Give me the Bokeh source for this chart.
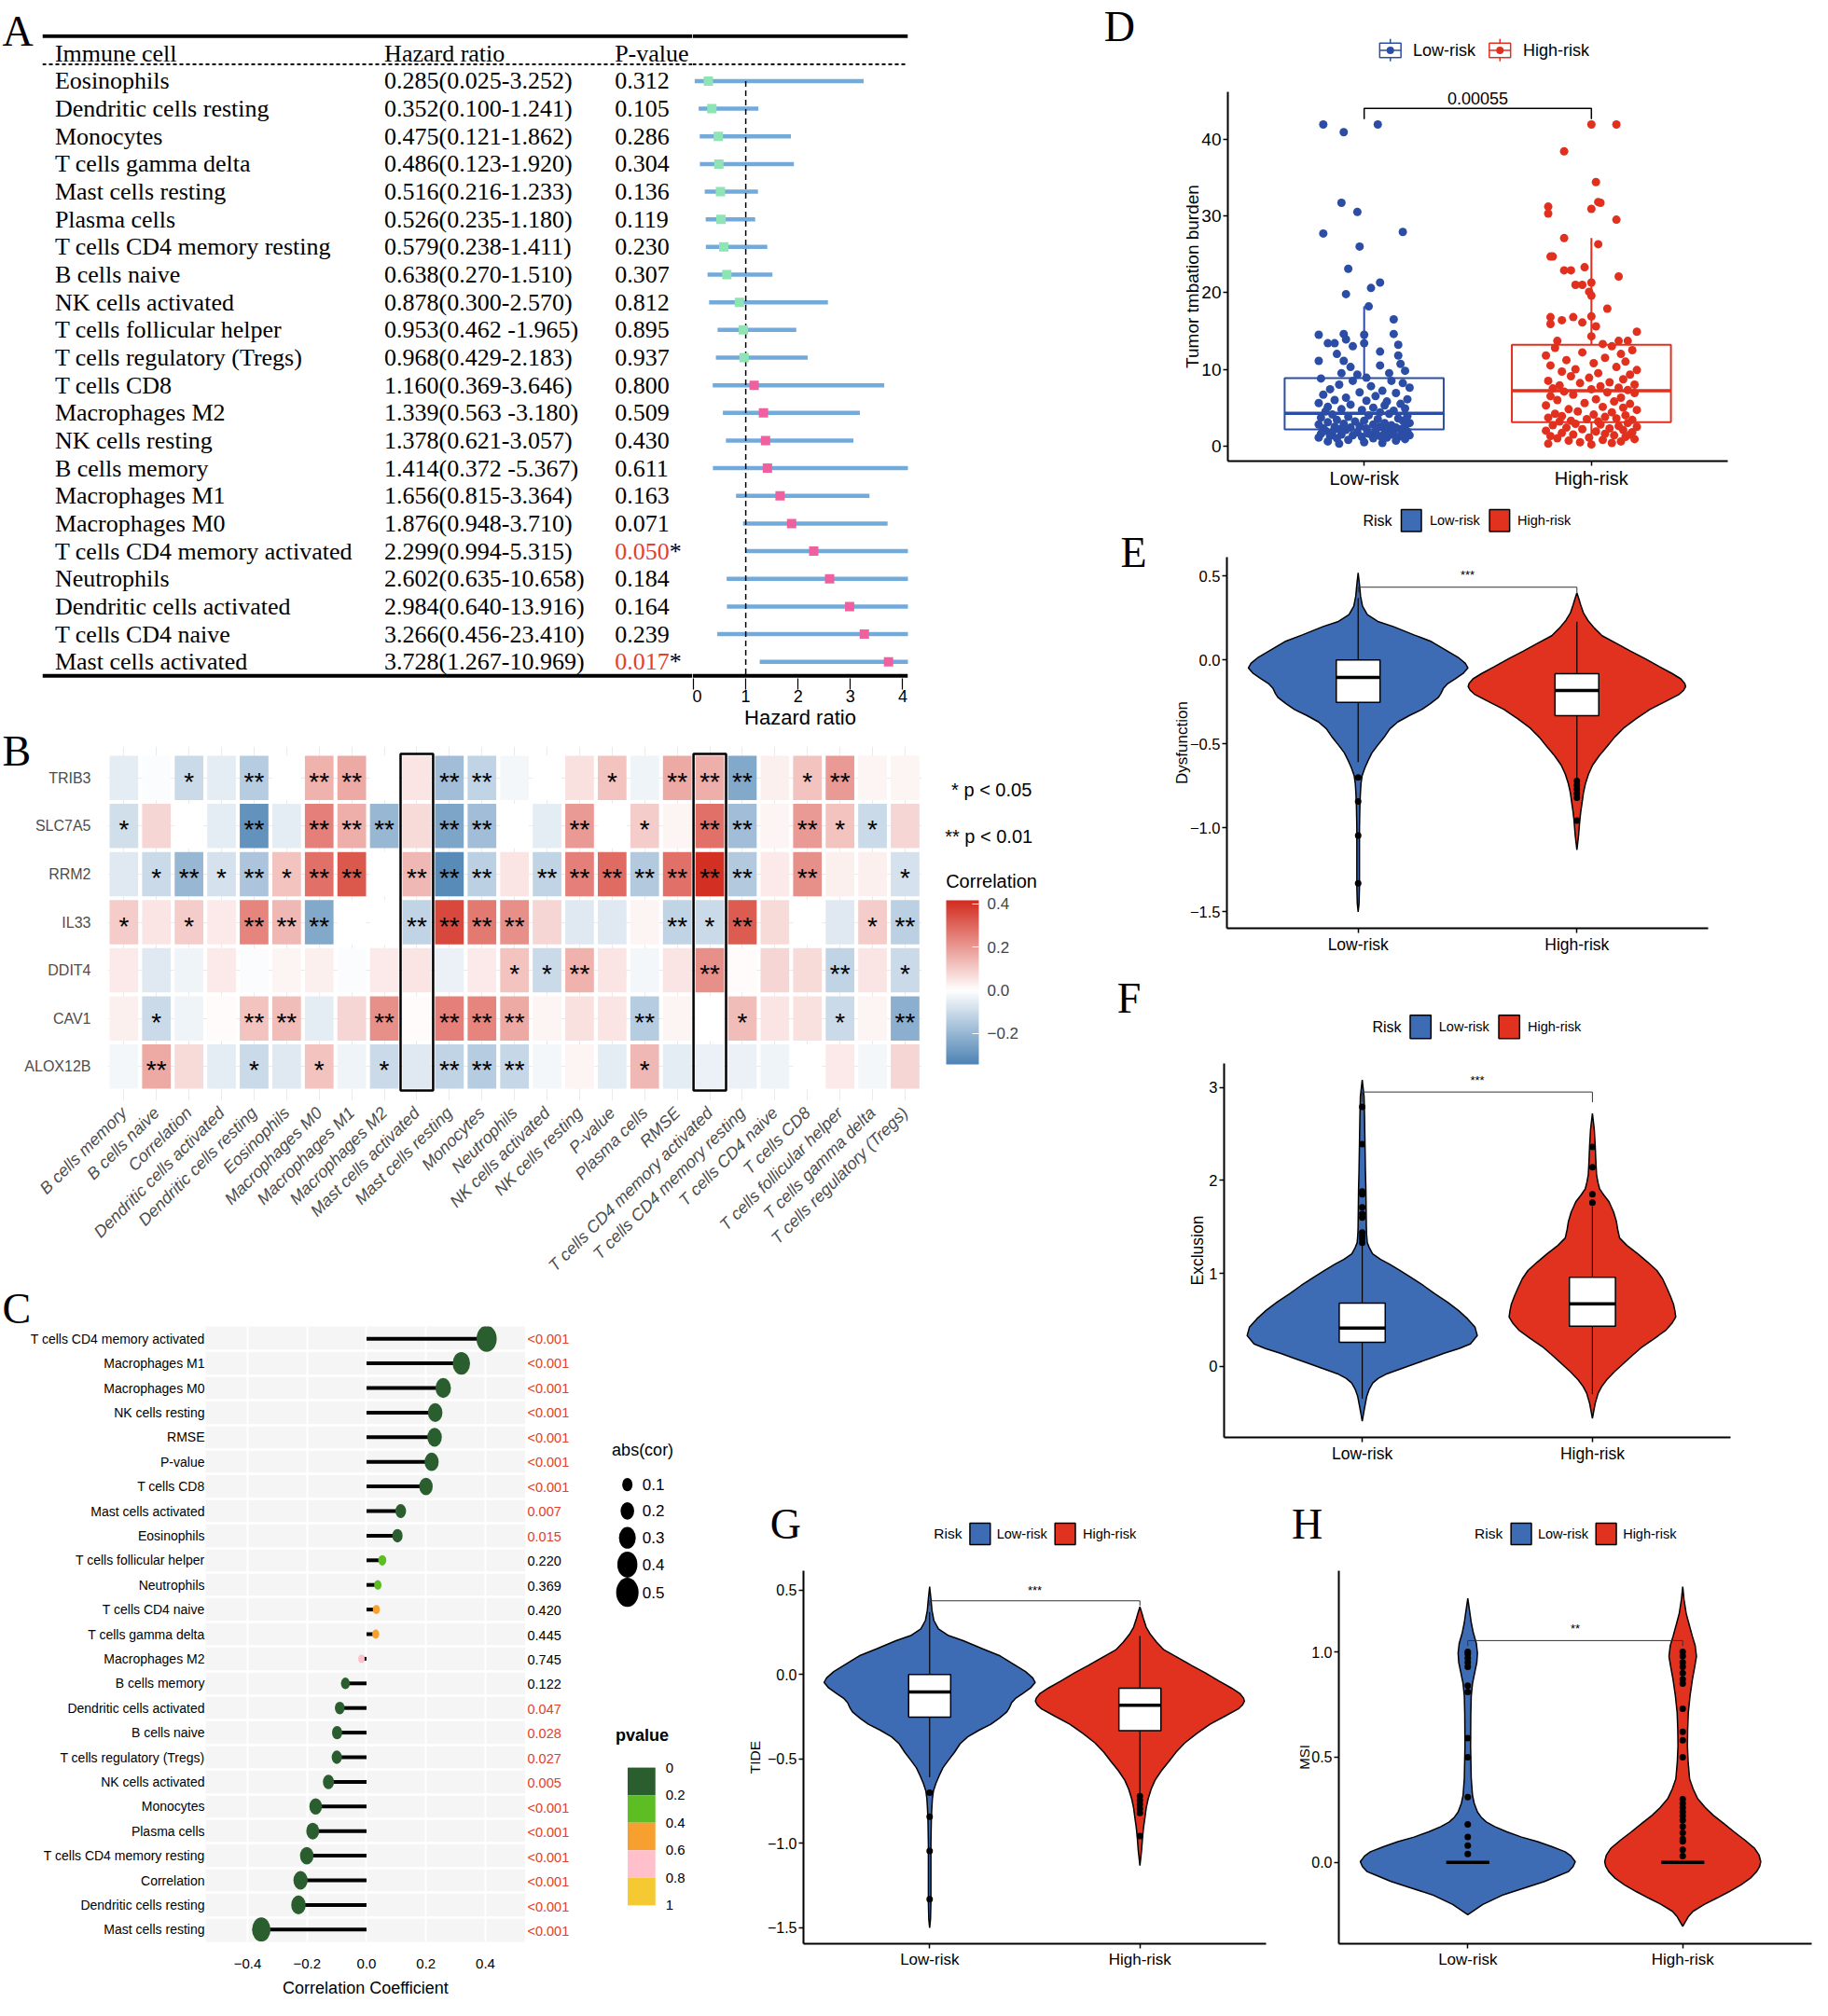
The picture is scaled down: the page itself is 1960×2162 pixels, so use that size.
import numpy as np
from bokeh.plotting import figure
from bokeh.models import (Range1d, FixedTicker, ColorBar, LinearColorMapper, GridBox, Span,
                          ColumnDataSource)
from bokeh.layouts import row
from bokeh.transform import transform
from bokeh.embed import file_html
from bokeh.resources import INLINE
from bokeh.core.properties import value

# ======================= DATA =======================
# ---- A: forest plot
cells_A = ["Eosinophils", "Dendritic cells resting", "Monocytes", "T cells gamma delta", "Mast cells resting",
           "Plasma cells", "T cells CD4 memory resting", "B cells naive", "NK cells activated",
           "T cells follicular helper", "T cells regulatory (Tregs)", "T cells CD8", "Macrophages M2",
           "NK cells resting", "B cells memory", "Macrophages M1", "Macrophages M0",
           "T cells CD4 memory activated", "Neutrophils", "Dendritic cells activated", "T cells CD4 naive",
           "Mast cells activated"]
hr_A = [0.285, 0.352, 0.475, 0.486, 0.516, 0.526, 0.579, 0.638, 0.878, 0.953, 0.968, 1.160, 1.339, 1.378,
        1.414, 1.656, 1.876, 2.299, 2.602, 2.984, 3.266, 3.728]
lo_A = [0.025, 0.100, 0.121, 0.123, 0.216, 0.235, 0.238, 0.270, 0.300, 0.462, 0.429, 0.369, 0.563, 0.621,
        0.372, 0.815, 0.948, 0.994, 0.635, 0.640, 0.456, 1.267]
hi_A = [3.252, 1.241, 1.862, 1.920, 1.233, 1.180, 1.411, 1.510, 2.570, 1.965, 2.183, 3.646, 3.180, 3.057,
        5.367, 3.364, 3.710, 5.315, 10.658, 13.916, 23.410, 10.969]
ci_txt_A = ["0.285(0.025-3.252)", "0.352(0.100-1.241)", "0.475(0.121-1.862)", "0.486(0.123-1.920)",
            "0.516(0.216-1.233)", "0.526(0.235-1.180)", "0.579(0.238-1.411)", "0.638(0.270-1.510)",
            "0.878(0.300-2.570)", "0.953(0.462 -1.965)", "0.968(0.429-2.183)", "1.160(0.369-3.646)",
            "1.339(0.563 -3.180)", "1.378(0.621-3.057)", "1.414(0.372 -5.367)", "1.656(0.815-3.364)",
            "1.876(0.948-3.710)", "2.299(0.994-5.315)", "2.602(0.635-10.658)", "2.984(0.640-13.916)",
            "3.266(0.456-23.410)", "3.728(1.267-10.969)"]
p_txt_A = ["0.312", "0.105", "0.286", "0.304", "0.136", "0.119", "0.230", "0.307", "0.812", "0.895", "0.937",
           "0.800", "0.509", "0.430", "0.611", "0.163", "0.071", "0.050", "0.184", "0.164", "0.239", "0.017"]
header_A = ["Immune cell", "Hazard ratio", "P-value"]
hr_ticks = [0, 1, 2, 3, 4]

# ---- B: heatmap
genes_B = ["TRIB3", "SLC7A5", "RRM2", "IL33", "DDIT4", "CAV1", "ALOX12B"]
cols_B = ["B cells memory", "B cells naive", "Correlation", "Dendritic cells activated", "Dendritic cells resting",
          "Eosinophils", "Macrophages M0", "Macrophages M1", "Macrophages M2", "Mast cells activated",
          "Mast cells resting", "Monocytes", "Neutrophils", "NK cells activated", "NK cells resting", "P-value",
          "Plasma cells", "RMSE", "T cells CD4 memory activated", "T cells CD4 memory resting",
          "T cells CD4 naive", "T cells CD8", "T cells follicular helper", "T cells gamma delta",
          "T cells regulatory (Tregs)"]
cor_TRIB3 = [-0.05, -0.01, -0.10, -0.05, -0.14, 0.00, 0.15, 0.17, 0.00, 0.05, -0.18, -0.12, -0.02, 0.00, 0.06,
             0.12, -0.03, 0.17, 0.16, -0.24, 0.03, 0.12, 0.20, 0.02, 0.02]
sig_TRIB3 = ["", "", "*", "", "**", "", "**", "**", "", "", "**", "**", "", "", "", "*", "", "**", "**", "**",
             "", "*", "**", "", ""]
cor_SLC7A5 = [-0.09, 0.08, 0.00, -0.05, -0.30, -0.05, 0.25, 0.16, -0.20, 0.07, -0.25, -0.18, 0.00, -0.05, 0.20,
              0.00, 0.10, 0.02, 0.28, -0.18, 0.02, 0.20, 0.12, -0.10, 0.08]
sig_SLC7A5 = ["*", "", "", "", "**", "", "**", "**", "**", "", "**", "**", "", "", "**", "", "*", "", "**", "**",
              "", "**", "*", "*", ""]
cor_RRM2 = [-0.06, -0.10, -0.20, -0.08, -0.16, 0.12, 0.28, 0.33, 0.00, 0.14, -0.32, -0.13, 0.05, -0.12, 0.25,
            0.29, -0.15, 0.28, 0.41, -0.15, 0.04, 0.22, 0.03, 0.03, -0.08]
sig_RRM2 = ["", "*", "**", "*", "**", "*", "**", "**", "", "**", "**", "**", "", "**", "**", "**", "**", "**",
            "**", "**", "", "**", "", "", "*"]
cor_IL33 = [0.10, 0.05, 0.10, 0.04, 0.24, 0.14, -0.24, 0.00, 0.00, -0.12, 0.36, 0.26, 0.22, 0.08, -0.06, -0.06,
            0.02, -0.12, -0.10, 0.32, 0.07, 0.00, -0.06, 0.10, -0.13]
sig_IL33 = ["*", "", "*", "", "**", "**", "**", "", "", "**", "**", "**", "**", "", "", "", "", "**", "*", "**",
            "", "", "", "*", "**"]
cor_DDIT4 = [0.04, -0.06, -0.03, 0.04, -0.01, 0.02, 0.03, -0.01, 0.04, 0.05, -0.04, 0.04, 0.12, -0.10, 0.15,
             0.05, -0.02, 0.05, 0.22, 0.01, 0.08, 0.07, -0.12, 0.05, -0.10]
sig_DDIT4 = ["", "", "", "", "", "", "", "", "", "", "", "", "*", "*", "**", "", "", "", "**", "", "", "", "**",
             "", "*"]
cor_CAV1 = [0.03, -0.10, -0.03, 0.01, 0.12, 0.13, -0.05, 0.08, 0.22, 0.01, 0.25, 0.24, 0.17, 0.02, 0.06, 0.05,
            -0.14, 0.02, 0.00, 0.13, 0.05, 0.06, -0.10, 0.02, -0.22]
sig_CAV1 = ["", "*", "", "", "**", "**", "", "", "**", "", "**", "**", "**", "", "", "", "**", "", "", "*", "",
            "", "*", "", "**"]
cor_ALOX12B = [-0.02, 0.17, 0.07, -0.05, -0.10, -0.06, 0.12, -0.03, -0.10, -0.06, -0.12, -0.14, -0.11, -0.02,
               0.02, -0.05, 0.14, -0.05, -0.04, -0.04, -0.03, 0.00, 0.04, -0.02, 0.08]
sig_ALOX12B = ["", "**", "", "", "*", "", "*", "", "*", "", "**", "**", "**", "", "", "", "*", "", "", "", "", "",
               "", "", ""]
heat_cor = [cor_TRIB3, cor_SLC7A5, cor_RRM2, cor_IL33, cor_DDIT4, cor_CAV1, cor_ALOX12B]
heat_sig = [sig_TRIB3, sig_SLC7A5, sig_RRM2, sig_IL33, sig_DDIT4, sig_CAV1, sig_ALOX12B]
highlight_B = ["Mast cells activated", "T cells CD4 memory activated"]
cbar_low, cbar_high = -0.343, 0.417
cbar_ticks = [-0.2, 0.0, 0.2, 0.4]

# ---- C: lollipop
cells_C = ["T cells CD4 memory activated", "Macrophages M1", "Macrophages M0", "NK cells resting", "RMSE",
           "P-value", "T cells CD8", "Mast cells activated", "Eosinophils", "T cells follicular helper",
           "Neutrophils", "T cells CD4 naive", "T cells gamma delta", "Macrophages M2", "B cells memory",
           "Dendritic cells activated", "B cells naive", "T cells regulatory (Tregs)", "NK cells activated",
           "Monocytes", "Plasma cells", "T cells CD4 memory resting", "Correlation", "Dendritic cells resting",
           "Mast cells resting"]
cor_C = [0.404, 0.319, 0.258, 0.231, 0.229, 0.219, 0.200, 0.115, 0.104, 0.053, 0.038, 0.033, 0.031, -0.017,
         -0.071, -0.090, -0.099, -0.100, -0.128, -0.171, -0.181, -0.201, -0.222, -0.229, -0.354]
pval_C = [0.0005, 0.0005, 0.0005, 0.0005, 0.0005, 0.0005, 0.0005, 0.007, 0.015, 0.220, 0.369, 0.420, 0.445,
          0.745, 0.122, 0.047, 0.028, 0.027, 0.005, 0.0005, 0.0005, 0.0005, 0.0005, 0.0005, 0.0005]
ptxt_C = ["<0.001", "<0.001", "<0.001", "<0.001", "<0.001", "<0.001", "<0.001", "0.007", "0.015", "0.220",
          "0.369", "0.420", "0.445", "0.745", "0.122", "0.047", "0.028", "0.027", "0.005", "<0.001", "<0.001",
          "<0.001", "<0.001", "<0.001", "<0.001"]
size_breaks_C = [0.0, 0.1, 0.2, 0.3, 0.4, 0.5]
size_px_C = [6, 11, 14.5, 18, 21.5, 24]
pv_breaks_C = [0, 0.2, 0.4, 0.6, 0.8, 1]
pv_colors_C = ["#2B5E2F", "#5DBE24", "#F7A02F", "#FFC0CB", "#F5C932"]
c_xticks = [-0.4, -0.2, 0.0, 0.2, 0.4]

# ---- D: TMB boxplot + jitter
tmb_low = [41.9, 40.9, 41.9, 31.7, 30.5, 27.7, 27.9, 26.0, 23.1, 21.3, 19.8, 20.6, 18.2,
           16.5, 14.5, 14.6, 14.6, 14.5, 13.4, 13.4, 13.9, 13.0, 13.2, 13.4, 11.1, 12.0, 12.3, 11.8, 11.1, 10.3,
           10.5, 10.7, 9.8, 9.5, 9.3, 8.9, 9.5,
           8.8, 8.5, 8.5, 8.2, 8.0, 7.8, 7.6, 7.4, 7.2, 7.0, 6.9, 6.7, 6.5, 6.3, 6.1, 6.0, 5.9, 5.8, 5.6, 5.5, 5.4,
           5.3, 5.1, 5.0, 4.9, 4.8, 4.7, 4.6, 4.5, 4.4,
           4.2, 4.1, 4.0, 3.9, 3.8, 3.7, 3.6, 3.5, 3.4, 3.3, 3.3, 3.2, 3.1, 3.0, 3.0, 2.9, 2.8, 2.8, 2.7, 2.6, 2.6,
           2.5, 2.5, 2.4, 2.4, 2.3, 2.3, 2.2, 2.2, 2.2,
           2.1, 2.0, 2.0, 1.9, 1.9, 1.8, 1.8, 1.7, 1.7, 1.6, 1.6, 1.5, 1.5, 1.4, 1.4, 1.3, 1.3, 1.2, 1.2, 1.1, 1.1,
           1.0, 1.0, 0.9, 0.8, 0.7, 0.6, 0.5, 0.4, 0.3]
jit_low = [-0.18, -0.09, 0.06, -0.10, -0.03, -0.18, 0.17, -0.02, -0.07, 0.07, -0.08, 0.03, 0.02,
           0.13, -0.20, -0.09, 0.13, 0.00, -0.16, -0.13, -0.08, -0.05, 0.15, 0.00, -0.20, -0.12, 0.07, 0.15, -0.09,
           -0.06, 0.07, 0.16, 0.18, -0.10, -0.03, 0.01, 0.11,
           -0.19, 0.12, -0.05, 0.17, -0.11, 0.03, 0.20, -0.15, 0.08, -0.02, 0.14, -0.18, 0.05, -0.08, 0.19, -0.13,
           0.01, 0.10, -0.20, 0.16, -0.06, 0.09, -0.16, 0.04, 0.18, -0.10, -0.01, 0.13, -0.17, 0.07,
           0.11, -0.14, 0.02, 0.19, -0.07, -0.19, 0.15, 0.06, -0.12, 0.00, 0.17, -0.04, -0.16, 0.09, 0.20, -0.09,
           0.04, -0.20, 0.12, -0.02, 0.18, -0.13, 0.07, -0.06, 0.14, -0.18, 0.01, 0.10, -0.11, 0.16,
           -0.08, 0.13, -0.17, 0.05, 0.19, -0.03, -0.14, 0.09, 0.17, -0.19, 0.02, 0.12, -0.10, 0.20, -0.05, 0.07,
           -0.15, 0.15, -0.01, -0.20, 0.10, 0.04, -0.12, 0.18, -0.07, 0.14, -0.16, 0.00, 0.08, -0.11]
tmb_high = [41.9, 41.9, 38.4, 34.4, 31.8, 31.7, 31.2, 30.9, 30.3, 29.5, 27.1, 26.3, 24.7, 24.7, 22.9, 22.9, 23.3,
            22.1, 21.0, 21.0, 21.3, 20.1, 19.6, 17.9, 16.8, 16.4, 16.8, 16.9, 15.9, 16.1, 15.6, 14.9, 14.3, 13.7,
            13.3, 13.7, 13.7,
            13.0, 12.8, 12.5, 12.2, 12.0, 11.8, 11.5, 11.2, 11.0, 10.8, 10.5, 10.3, 10.0, 9.9, 9.7, 9.5, 9.3, 9.1,
            8.9, 8.7, 8.5, 8.3, 8.2, 8.0, 7.9, 7.8, 7.6, 7.5, 7.4, 7.3,
            7.1, 7.0, 6.9, 6.7, 6.5, 6.3, 6.1, 6.0, 5.8, 5.6, 5.5, 5.3, 5.1, 5.0, 4.8, 4.7, 4.5, 4.4, 4.2, 4.1, 4.0,
            3.9, 3.8, 3.7, 3.6, 3.5, 3.4, 3.3, 3.2, 3.2,
            3.0, 2.9, 2.8, 2.7, 2.6, 2.5, 2.4, 2.3, 2.2, 2.1, 2.0, 1.9, 1.8, 1.7, 1.6, 1.5, 1.4, 1.3, 1.2, 1.1, 1.0,
            0.9, 0.8, 0.7, 0.6, 0.5, 0.4, 0.3, 0.2, 1.5]
jit_high = [0.00, 0.11, -0.12, 0.02, 0.03, 0.04, -0.19, 0.00, -0.19, 0.11, -0.12, 0.03, -0.18, -0.17, -0.12,
            -0.09, -0.03, 0.12, -0.07, -0.04, 0.00, -0.01, 0.00, 0.07, -0.18, -0.13, -0.08, 0.00, -0.18, -0.04,
            0.02, 0.20, 0.00, -0.15, 0.05, 0.12, 0.16,
            0.09, -0.16, 0.18, -0.04, 0.13, -0.20, 0.06, -0.11, 0.15, 0.01, -0.18, 0.11, -0.07, 0.20, -0.13, 0.03,
            0.17, -0.09, -0.01, 0.14, -0.19, 0.08, -0.05, 0.19, -0.14, 0.04, 0.12, -0.17, 0.00, 0.16,
            -0.12, 0.07, 0.19, -0.08, -0.18, 0.13, 0.02, -0.15, 0.10, -0.03, 0.17, -0.20, 0.05, 0.14, -0.10, 0.20,
            -0.06, 0.09, -0.16, 0.01, 0.15, -0.13, 0.06, -0.19, 0.11, -0.02, 0.18, -0.09, 0.03, -0.14,
            0.16, -0.07, 0.04, -0.17, 0.12, 0.20, -0.11, 0.08, -0.04, 0.14, -0.20, 0.02, 0.18, -0.13, 0.06, -0.08,
            0.10, -0.18, 0.15, -0.01, -0.15, 0.19, 0.05, -0.10, 0.13, -0.05, 0.09, -0.19, 0.00, 0.17]
box_tmb_low = [2.17, 4.25, 8.84, 0.2, 18.2]     # q1, median, q3, whisker low, whisker high
box_tmb_high = [3.1, 7.2, 13.2, 0.2, 27.1]
tmb_ticks = [0, 10, 20, 30, 40]
tmb_p = "0.00055"
groups = ["Low-risk", "High-risk"]

# ---- E: Dysfunction violins (y level, half-width)
dys_low_y = [0.52, 0.45, 0.38, 0.32, 0.27, 0.23, 0.20, 0.15, 0.11, 0.06, 0.017, -0.02, -0.047, -0.08, -0.112,
             -0.14, -0.167, -0.20, -0.222, -0.26, -0.295, -0.33, -0.369, -0.41, -0.461, -0.51, -0.553, -0.60,
             -0.645, -0.69, -0.737, -0.80, -0.865, -1.0, -1.2, -1.35, -1.45, -1.50]
dys_low_w = [0.0, 0.006, 0.011, 0.02, 0.042, 0.09, 0.16, 0.255, 0.335, 0.40, 0.456, 0.49, 0.502, 0.48, 0.443,
             0.41, 0.39, 0.378, 0.367, 0.33, 0.291, 0.235, 0.181, 0.145, 0.118, 0.088, 0.063, 0.045, 0.03, 0.018,
             0.013, 0.01, 0.008, 0.006, 0.006, 0.006, 0.004, 0.0]
dys_high_y = [0.40, 0.36, 0.33, 0.28, 0.237, 0.19, 0.145, 0.10, 0.053, 0.01, -0.039, -0.08, -0.112, -0.14,
              -0.158, -0.18, -0.204, -0.25, -0.295, -0.35, -0.406, -0.46, -0.516, -0.57, -0.626, -0.68, -0.737,
              -0.79, -0.847, -0.90, -0.957, -1.04, -1.131]
dys_high_w = [0.0, 0.01, 0.017, 0.03, 0.05, 0.08, 0.115, 0.18, 0.246, 0.31, 0.377, 0.435, 0.475, 0.493, 0.497,
              0.488, 0.468, 0.40, 0.333, 0.27, 0.213, 0.172, 0.137, 0.102, 0.072, 0.053, 0.039, 0.03, 0.024,
              0.018, 0.013, 0.008, 0.0]
dys_box_low = [-0.252, -0.103, 0.0, -0.608, 0.37]
dys_box_high = [-0.332, -0.182, -0.081, -0.718, 0.228]
dys_out_low = [-0.70, -0.842, -1.045, -1.33]
dys_out_high = [-0.72, -0.745, -0.77, -0.795, -0.82, -0.957]

# ---- F: Exclusion
exc_low_y = [3.08, 2.9, 2.7, 2.4, 2.1, 1.9, 1.7, 1.5, 1.42, 1.33, 1.28, 1.21, 1.15, 1.10, 1.03, 0.96, 0.87,
             0.78, 0.69, 0.60, 0.51, 0.42, 0.33, 0.24, 0.19, 0.14, 0.085, 0.03, -0.025, -0.08, -0.13, -0.18,
             -0.25, -0.32, -0.45, -0.59]
exc_low_w = [0.0, 0.008, 0.01, 0.012, 0.014, 0.016, 0.017, 0.018, 0.019, 0.022, 0.03, 0.045, 0.08, 0.118, 0.165,
             0.21, 0.265, 0.315, 0.37, 0.418, 0.458, 0.49, 0.50, 0.47, 0.42, 0.356, 0.295, 0.232, 0.17, 0.108,
             0.07, 0.046, 0.03, 0.02, 0.01, 0.0]
exc_high_y = [2.72, 2.55, 2.38, 2.2, 2.06, 1.98, 1.91, 1.84, 1.77, 1.66, 1.56, 1.47, 1.38, 1.30, 1.21, 1.12,
              1.03, 0.94, 0.85, 0.76, 0.67, 0.60, 0.53, 0.46, 0.39, 0.30, 0.21, 0.12, 0.03, -0.06, -0.145, -0.22,
              -0.29, -0.4, -0.56]
exc_high_w = [0.0, 0.008, 0.012, 0.015, 0.018, 0.024, 0.031, 0.05, 0.072, 0.092, 0.104, 0.11, 0.118, 0.15,
              0.197, 0.24, 0.28, 0.305, 0.322, 0.338, 0.352, 0.358, 0.362, 0.345, 0.32, 0.27, 0.217, 0.175,
              0.135, 0.095, 0.062, 0.04, 0.025, 0.012, 0.0]
exc_box_low = [0.257, 0.41, 0.68, -0.35, 1.31]
exc_box_high = [0.432, 0.673, 0.958, -0.3, 1.72]
exc_out_low = [2.79, 2.39, 1.88, 1.85, 1.71, 1.64, 1.60, 1.44, 1.40, 1.37, 1.33]
exc_out_high = [2.36, 2.14, 1.85, 1.76]

# ---- G: TIDE (same shape as the Dysfunction panel in the picture)
tide_low_y, tide_low_w = dys_low_y, dys_low_w
tide_high_y, tide_high_w = dys_high_y, dys_high_w
tide_box_low, tide_box_high = dys_box_low, dys_box_high
tide_out_low, tide_out_high = dys_out_low, dys_out_high

# ---- H: MSI
msi_low_y = [-0.249, -0.2, -0.154, -0.12, -0.091, -0.06, -0.044, -0.02, 0.003, 0.03, 0.05, 0.075, 0.098, 0.12,
             0.145, 0.17, 0.192, 0.215, 0.239, 0.28, 0.318, 0.4, 0.554, 0.7, 0.79, 0.85, 0.90, 0.95, 0.995, 1.04,
             1.09, 1.14, 1.184, 1.255]
msi_low_w = [0.0, 0.07, 0.166, 0.27, 0.357, 0.43, 0.469, 0.49, 0.5, 0.48, 0.453, 0.39, 0.325, 0.25, 0.182, 0.125,
             0.086, 0.062, 0.045, 0.03, 0.022, 0.016, 0.013, 0.014, 0.016, 0.022, 0.032, 0.042, 0.045, 0.04,
             0.026, 0.016, 0.01, 0.0]
msi_high_y = [-0.304, -0.26, -0.233, -0.2, -0.17, -0.14, -0.107, -0.075, -0.044, -0.02, 0.003, 0.035, 0.066,
              0.105, 0.145, 0.185, 0.223, 0.26, 0.302, 0.35, 0.397, 0.48, 0.554, 0.63, 0.712, 0.79, 0.869, 0.93,
              0.979, 1.03, 1.074, 1.13, 1.184, 1.25, 1.31]
msi_high_w = [0.0, 0.025, 0.048, 0.1, 0.159, 0.215, 0.271, 0.315, 0.344, 0.358, 0.363, 0.355, 0.335, 0.29,
              0.239, 0.19, 0.143, 0.105, 0.07, 0.048, 0.032, 0.025, 0.022, 0.023, 0.026, 0.034, 0.045, 0.056,
              0.064, 0.058, 0.045, 0.03, 0.016, 0.006, 0.0]
msi_box_low = [0.0, 0.0, 0.0, 0.0, 0.0]
msi_box_high = [0.0, 0.0, 0.0, 0.0, 0.0]
msi_out_low = [1.0, 0.99, 0.97, 0.95, 0.93, 0.84, 0.81, 0.59, 0.50, 0.31, 0.18, 0.12, 0.08, 0.04]
msi_out_high = [1.0, 0.98, 0.95, 0.93, 0.90, 0.87, 0.85, 0.73, 0.62, 0.58, 0.50, 0.30, 0.28, 0.26, 0.24, 0.22,
                0.20, 0.17, 0.14, 0.11, 0.10, 0.06, 0.03]

# ======================= STYLE / LAYOUT =======================
S = 1944 / 1960
SANS, SERIF = "Liberation Sans", "Liberation Serif"
MINUS = "\u2212"
BLUE_PT, RED_PT = "#2B4DA5", "#E2301F"
BLUE_V, RED_V = "#3E6CB4", "#E0321F"
RED_TXT = "#E2412B"
ELL_ASPECT = 1.3


def sc(v):
    return int(round(v * S))


def no_align(p):
    try:
        p.frame_align = False
    except AttributeError:
        pass


def make_fig(cell, frame, **kw):
    x0, y0, x1, y1 = cell
    fx0, fy0, fx1, fy1 = frame
    p = figure(width=sc(x1) - sc(x0), height=sc(y1) - sc(y0), output_backend="svg", toolbar_location=None,
               min_border_left=sc(fx0) - sc(x0), min_border_right=sc(x1) - sc(fx1),
               min_border_top=sc(fy0) - sc(y0), min_border_bottom=sc(y1) - sc(fy1), **kw)
    p.outline_line_color = None
    p.xgrid.visible = False
    p.ygrid.visible = False
    no_align(p)
    return p


def txt(p, x, y, t, size, color="black", align="left", baseline="middle", font=SANS, style="normal", **kw):
    p.text(x=x, y=y, text=t, text_font=value(font), text_font_size=size, text_color=color,
           text_align=align, text_baseline=baseline, text_font_style=style, **kw)


def fmt(v, nd=1):
    s = f"{abs(v):.{nd}f}"
    return (MINUS + s) if v < 0 else s


def style_axis(ax, size, color="black"):
    ax.major_label_text_font = SANS
    ax.major_label_text_font_size = size
    ax.major_label_text_color = color
    ax.minor_tick_line_color = None
    ax.axis_label_text_font = SANS
    ax.axis_label_text_font_style = "normal"
    ax.axis_label_text_color = "black"


# grid boundaries (reference pixel coordinates)
COLB = [0, 800, 1150, 1380, 1960]
ROWB = [0, 540, 790, 1040, 1395, 1600, 2162]

# ---------------- Panel A ----------------
ROW0, ROWSP = 86.9, 29.9
yA = Range1d(21.6, -1.7)
fa_top, fa_bot = ROW0 - 1.7 * ROWSP, ROW0 + 21.6 * ROWSP
COLX = [59, 415, 664]
STAR_X = 723
TFS = "26px"
SPLIT = 748
tA = make_fig((0, 0, SPLIT, 790), (45.5, fa_top, SPLIT, fa_bot), x_range=Range1d(45.5, SPLIT), y_range=yA,
              x_axis_location=None, y_axis_location=None)
rowsA = list(range(len(cells_A)))
nA = len(rowsA)
sigA = [float(v) <= 0.05 for v in p_txt_A]
txt(tA, COLX, [-1] * 3, header_A, TFS, font=SERIF)
txt(tA, [COLX[0]] * nA, rowsA, cells_A, TFS, font=SERIF)
txt(tA, [COLX[1]] * nA, rowsA, ci_txt_A, TFS, font=SERIF)
txt(tA, [COLX[2]] * nA, rowsA, p_txt_A, TFS, font=SERIF, color=[RED_TXT if s else "black" for s in sigA])
star_rows = [i for i in rowsA if sigA[i]]
txt(tA, [STAR_X] * len(star_rows), star_rows, ["*"] * len(star_rows), TFS, font=SERIF)

HR0_PX, HR_UNIT = 749, 56.6
fA = make_fig((SPLIT, 0, 1150, 790), (SPLIT, fa_top, 981, fa_bot),
              x_range=Range1d((SPLIT - HR0_PX) / HR_UNIT, (981 - HR0_PX) / HR_UNIT), y_range=yA,
              y_axis_location=None)
fA.segment(x0=lo_A, y0=rowsA, x1=hi_A, y1=rowsA, line_width=4.5, line_color="#72AADB")
fA.segment(x0=[1], x1=[1], y0=[0], y1=[21.5], line_color="black", line_width=1.5, line_dash="6 4")
fA.scatter(x=hr_A, y=rowsA, marker="square", size=10, line_color=None,
           fill_color=["#8EE4B4" if h < 1 else "#F0609E" for h in hr_A])
for p in (tA, fA):
    p.add_layout(Span(location=-1.62, dimension="width", line_color="black", line_width=4))
    p.add_layout(Span(location=21.51, dimension="width", line_color="black", line_width=4))
    p.add_layout(Span(location=-0.6, dimension="width", line_color="black", line_width=2, line_dash="4 3"))
ax = fA.xaxis[0]
style_axis(ax, "18px")
ax.ticker = FixedTicker(ticks=hr_ticks)
ax.axis_line_color = None
ax.major_tick_in = 0
ax.major_tick_out = 12
ax.major_tick_line_width = 1.2
ax.major_label_standoff = 0
ax.axis_label = "Hazard ratio"
ax.axis_label_text_font_size = "22px"
ax.axis_label_standoff = 1
panelA = row(tA, fA)

# ---------------- Panel B ----------------
def grad2(v):
    hi_c, lo_c = (210, 43, 30), (38, 104, 163)
    t = v / max(abs(cbar_low), abs(cbar_high))
    c = hi_c if t >= 0 else lo_c
    t = min(abs(t), 1.0)
    r, g, b = [int(round(255 + (ci - 255) * t)) for ci in c]
    return "#%02x%02x%02x" % (r, g, b)


pal = [grad2(cbar_low + (k + 0.5) * (cbar_high - cbar_low) / 256) for k in range(256)]
mapper = LinearColorMapper(palette=pal, low=cbar_low, high=cbar_high)

C0_PX, C_UNIT = 133.5, 35.2
R0_PX, R_UNIT = 841, 52
hB = make_fig((0, ROWB[2], 1150, ROWB[4]), (116, 807, 996.5, 1190),
              x_range=Range1d((116 - C0_PX) / C_UNIT, (996.5 - C0_PX) / C_UNIT),
              y_range=Range1d((1190 - R0_PX) / R_UNIT, (807 - R0_PX) / R_UNIT))
hx, hy, hv, hs = [], [], [], []
for gi in range(len(genes_B)):
    for ci in range(len(cols_B)):
        hx.append(ci); hy.append(gi); hv.append(heat_cor[gi][ci]); hs.append(heat_sig[gi][ci])
srcB = ColumnDataSource(dict(x=hx, y=hy, v=hv, s=hs))
hB.xgrid.visible = True
hB.ygrid.visible = True
hB.xgrid.ticker = FixedTicker(ticks=list(range(len(cols_B))))
hB.ygrid.ticker = FixedTicker(ticks=list(range(len(genes_B))))
hB.grid.grid_line_color = "#EBEBEB"
hB.rect(x="x", y="y", width=0.88, height=0.92, source=srcB, fill_color=transform("v", mapper), line_color=None)
hB.text(x="x", y="y", text="s", source=srcB, text_font=value(SANS), text_font_size="28px", text_align="center",
        text_baseline="middle", y_offset=4, text_color="black")
hl_idx = [cols_B.index(c) for c in highlight_B]
hB.rect(x=hl_idx, y=[(len(genes_B) - 1) / 2] * len(hl_idx), width=1, height=len(genes_B), fill_color=None,
        line_color="black", line_width=2.5)
ax = hB.xaxis[0]
style_axis(ax, "18px", "#4D4D4D")
ax.ticker = FixedTicker(ticks=list(range(len(cols_B))))
ax.major_label_overrides = {i: c for i, c in enumerate(cols_B)}
ax.major_label_orientation = np.pi / 4
ax.major_label_text_font_style = "italic"
ax.axis_line_color = None
ax.major_tick_line_color = None
ax.major_label_standoff = 4
ax = hB.yaxis[0]
style_axis(ax, "16px", "#4D4D4D")
ax.ticker = FixedTicker(ticks=list(range(len(genes_B))))
ax.major_label_overrides = {i: g for i, g in enumerate(genes_B)}
ax.axis_line_color = None
ax.major_tick_line_color = None
ax.major_label_standoff = 12

# ---------------- Panel C ----------------
CR0, CRSP = 1447, 26.7
c_top, c_bot = CR0 - 0.5 * CRSP, CR0 + 24.5 * CRSP
yC = Range1d(len(cells_C) - 0.5, -0.5)
CX0, CXU = 396, 321.5
cM = make_fig((0, ROWB[4], 568, 2162), (222, c_top, 568, c_bot),
              x_range=Range1d((222 - CX0) / CXU, (568 - CX0) / CXU), y_range=yC)
cM.background_fill_color = "#F5F5F5"
cM.xgrid.visible = True
cM.ygrid.visible = True
cM.xgrid.ticker = FixedTicker(ticks=c_xticks)
cM.ygrid.ticker = FixedTicker(ticks=[k + 0.5 for k in range(len(cells_C) - 1)])
cM.xgrid.grid_line_color = "white"
cM.xgrid.grid_line_width = 2
cM.ygrid.grid_line_color = "white"
cM.ygrid.grid_line_width = 2.5
rowsC = list(range(len(cells_C)))
cM.segment(x0=[0] * len(rowsC), y0=rowsC, x1=cor_C, y1=rowsC, line_color="black", line_width=4)
wC = [float(np.interp(abs(c), size_breaks_C, size_px_C)) for c in cor_C]
colC = [pv_colors_C[min(int(p / 0.2), 4)] for p in pval_C]
cM.ellipse(x=cor_C, y=rowsC, width=wC, height=[w * ELL_ASPECT for w in wC], width_units="screen",
           height_units="screen", fill_color=colC, line_color=None)
ax = cM.yaxis[0]
style_axis(ax, "14px")
ax.ticker = FixedTicker(ticks=rowsC)
ax.major_label_overrides = {i: c for i, c in enumerate(cells_C)}
ax.axis_line_color = None
ax.major_tick_line_color = None
ax.major_tick_out = 0
ax.major_label_standoff = 1
ax = cM.xaxis[0]
style_axis(ax, "15px")
ax.ticker = FixedTicker(ticks=c_xticks)
ax.major_label_overrides = {t: fmt(t) for t in c_xticks}
ax.axis_line_color = None
ax.major_tick_line_color = None
ax.major_label_standoff = 12
ax.axis_label = "Correlation Coefficient"
ax.axis_label_text_font_size = "18px"
ax.axis_label_standoff = 8

cR = make_fig((568, ROWB[4], 800, 2162), (568, c_top, 800, c_bot), x_range=Range1d(568, 800), y_range=yC,
              x_axis_location=None, y_axis_location=None)
txt(cR, [570] * len(rowsC), rowsC, ptxt_C, "14.5px", color=[RED_TXT if p < 0.05 else "black" for p in pval_C])
panelC = row(cM, cR)

# ---------------- Panel D ----------------
DY0, DYU = 481.7, 8.3
pD = make_fig((1150, 0, 1960, 540), (1327, 98.6, 1867, 498), x_range=Range1d(0.4, 2.6),
              y_range=Range1d((DY0 - 498) / DYU, (DY0 - 98.6) / DYU))
for k, (vals, jit, box, col) in enumerate([(tmb_low, jit_low, box_tmb_low, BLUE_PT),
                                            (tmb_high, jit_high, box_tmb_high, RED_PT)]):
    c = k + 1
    q1, med, q3, wlo, whi = box
    pD.segment(x0=[c, c], y0=[q3, q1], x1=[c, c], y1=[whi, wlo], line_color=col, line_width=2)
    pD.quad(left=[c - 0.35], right=[c + 0.35], bottom=[q1], top=[q3], fill_color=None, line_color=col,
            line_width=2)
    pD.segment(x0=[c - 0.35], x1=[c + 0.35], y0=[med], y1=[med], line_color=col, line_width=3.5)
    n = min(len(vals), len(jit))
    pD.scatter(x=[c + j for j in jit[:n]], y=vals[:n], size=9, fill_color=col, line_color=None)
pD.line(x=[1, 1, 2, 2], y=[42.6, 44.0, 44.0, 42.6], line_color="black", line_width=1.5)
txt(pD, [1.5], [44.5], [tmb_p], "18px", align="center", baseline="bottom")
ax = pD.xaxis[0]
style_axis(ax, "20px")
ax.ticker = FixedTicker(ticks=[1, 2])
ax.major_label_overrides = {1: groups[0], 2: groups[1]}
ax = pD.yaxis[0]
style_axis(ax, "19px")
ax.ticker = FixedTicker(ticks=tmb_ticks)
ax.axis_label = "Tumor tmbation burden"
ax.axis_label_text_font_size = "19px"
for ax in (pD.xaxis[0], pD.yaxis[0]):
    ax.axis_line_width = 2
    ax.major_tick_in = 0
    ax.major_tick_out = 5
    ax.major_tick_line_width = 1.5
    ax.major_label_standoff = 2
pD.xaxis[0].axis_label_standoff = 8
pD.yaxis[0].axis_label_standoff = -4


# ---------------- Violin panels E F G H ----------------
def violin_panel(cell, frame, yr, grp, yticks, ylabel, brk, star, tick_fs, lab_fs, xlab_fs, lab_standoff):
    p = make_fig(cell, frame, x_range=Range1d(0.4, 2.6), y_range=Range1d(*yr))
    for k, (py, pw, box, outl, fill) in enumerate(grp):
        c = k + 1
        xs = [c - w for w in pw] + [c + w for w in pw[::-1]]
        ys = list(py) + list(py[::-1])
        p.patch(xs, ys, fill_color=fill, line_color="black", line_width=1.5)
        q1, med, q3, wlo, whi = box
        p.segment(x0=[c, c], y0=[q3, q1], x1=[c, c], y1=[whi, wlo], line_color="black", line_width=1.2)
        p.quad(left=[c - 0.1], right=[c + 0.1], bottom=[q1], top=[q3], fill_color="white", line_color="black",
               line_width=1.5)
        p.segment(x0=[c - 0.1], x1=[c + 0.1], y0=[med], y1=[med], line_color="black", line_width=3.5)
        p.scatter(x=[c] * len(outl), y=outl, size=7, fill_color="black", line_color=None)
    by, tip = brk
    p.line(x=[1, 1, 2, 2], y=[by - tip, by, by, by - tip], line_color="#333333", line_width=1)
    txt(p, [1.5], [star], ["***" if ylabel != "MSI" else "**"], "13px", align="center", baseline="middle")
    ax = p.xaxis[0]
    style_axis(ax, xlab_fs)
    ax.ticker = FixedTicker(ticks=[1, 2])
    ax.major_label_overrides = {1: groups[0], 2: groups[1]}
    ax = p.yaxis[0]
    style_axis(ax, tick_fs)
    ax.ticker = FixedTicker(ticks=yticks)
    nd = 0 if ylabel == "Exclusion" else 1
    ax.major_label_overrides = {t: fmt(t, nd) for t in yticks}
    ax.axis_label = ylabel
    ax.axis_label_text_font_size = lab_fs
    for ax in (p.xaxis[0], p.yaxis[0]):
        ax.axis_line_width = 2
        ax.major_tick_in = 0
        ax.major_tick_out = 5
        ax.major_tick_line_width = 1.5
        ax.major_label_standoff = 2
    p.xaxis[0].axis_label_standoff = 8
    p.yaxis[0].axis_label_standoff = lab_standoff
    return p


pE = violin_panel((1150, 540, 1960, 1040), (1325.5, 601.7, 1846, 1003), (-1.598, 0.613),
                  [(dys_low_y, dys_low_w, dys_box_low, dys_out_low, BLUE_V),
                   (dys_high_y, dys_high_w, dys_box_high, dys_out_high, RED_V)],
                  [0.5, 0.0, -0.5, -1.0, -1.5], "Dysfunction", (0.434, 0.03), 0.505, "16.5px", "17px", "17.5px",
                  -4)
pF = violin_panel((1150, 1040, 1960, 1600), (1323, 1149, 1870, 1554), (-0.765, 3.257),
                  [(exc_low_y, exc_low_w, exc_box_low, exc_out_low, BLUE_V),
                   (exc_high_y, exc_high_w, exc_box_high, exc_out_high, RED_V)],
                  [0, 1, 2, 3], "Exclusion", (2.95, 0.11), 3.08, "16.5px", "17.5px", "17.5px", -1)
pG = violin_panel((800, 1600, 1380, 2162), (868, 1697.5, 1368, 2101), (-1.594, 0.614),
                  [(tide_low_y, tide_low_w, tide_box_low, tide_out_low, BLUE_V),
                   (tide_high_y, tide_high_w, tide_box_high, tide_out_high, RED_V)],
                  [0.5, 0.0, -0.5, -1.0, -1.5], "TIDE", (0.436, 0.03), 0.50, "16px", "15.5px", "17px", 2)
pH = violin_panel((1380, 1600, 1960, 2162), (1447, 1697.5, 1957.5, 2101), (-0.387, 1.386),
                  [(msi_low_y, msi_low_w, msi_box_low, msi_out_low, BLUE_V),
                   (msi_high_y, msi_high_w, msi_box_high, msi_out_high, RED_V)],
                  [0.0, 0.5, 1.0], "MSI", (1.054, 0.025), 1.11, "16px", "15px", "17px", -4)

# ---------------- Overlay: panel letters, legends ----------------
ov = figure(width=sc(1960), height=sc(2162), x_range=Range1d(0, 1960), y_range=Range1d(2162, 0),
            output_backend="svg", toolbar_location=None, x_axis_location=None, y_axis_location=None,
            min_border=0)
ov.background_fill_color = None
ov.border_fill_color = None
ov.outline_line_color = None
ov.xgrid.visible = False
ov.ygrid.visible = False
no_align(ov)

txt(ov, [2, 2, 2, 1193, 1211, 1207, 832, 1396], [33, 812, 1415, 28, 597, 1079, 1648, 1648], list("ABCDEFGH"),
    "46px", font=SERIF, baseline="middle")

# B legend
txt(ov, [1028, 1021], [854, 904], ["* p < 0.05", "** p < 0.01"], "20px")
txt(ov, [1022], [952], ["Correlation"], "20px")
cb = ColorBar(color_mapper=mapper, location=(sc(1022), sc(2162) - sc(1150)), width=sc(35), height=sc(177),
              padding=0, margin=0, ticker=FixedTicker(ticks=cbar_ticks),
              major_label_overrides={t: fmt(t) for t in cbar_ticks},
              major_label_text_font=SANS, major_label_text_font_size="17px", label_standoff=9,
              major_tick_line_color="white", major_tick_in=7, major_tick_out=0, minor_tick_line_color=None,
              bar_line_color=None, border_line_color=None, background_fill_color=None)
ov.add_layout(cb)

# C legends
txt(ov, [661], [1568], ["abs(cor)"], "18px")
leg_sizes = [0.1, 0.2, 0.3, 0.4, 0.5]
leg_y = [1605, 1633.5, 1662.5, 1691.5, 1721.5]
leg_w = [float(np.interp(v, size_breaks_C, size_px_C)) for v in leg_sizes]
ov.ellipse(x=[677.7] * 5, y=leg_y, width=leg_w, height=[w * ELL_ASPECT for w in leg_w], width_units="screen",
           height_units="screen", fill_color="black", line_color=None)
txt(ov, [694] * 5, leg_y, [f"{v:.1f}" for v in leg_sizes], "17px")
txt(ov, [665], [1876], ["pvalue"], "18px", style="bold")
blk_top = [1911 + 29.8 * k for k in range(5)]
ov.quad(left=[678] * 5, right=[708] * 5, top=blk_top, bottom=[t + 29.8 for t in blk_top],
        fill_color=pv_colors_C, line_color=None)
txt(ov, [719] * 6, [1911 + 29.8 * k for k in range(6)], [("%g" % b) for b in pv_breaks_C], "15px")

# D legend (boxplot keys)
for xc, col, lab_x, lab in [(1502.5, BLUE_PT, 1527, groups[0]), (1621, RED_PT, 1646, groups[1])]:
    ov.rect(x=[xc], y=[54], width=23, height=15.6, fill_color=None, line_color=col, line_width=1.5)
    ov.segment(x0=[xc, xc, xc - 11.5], y0=[41.5, 61.8, 54], x1=[xc, xc, xc + 11.5], y1=[46.2, 65.7, 54],
               line_color=col, line_width=1.5)
    ov.scatter(x=[xc], y=[54], size=8, fill_color=col, line_color=None)
    txt(ov, [lab_x], [54], [lab], "18px")

# Risk legends for E, F, G, H
for (rx, yc, s1, l1, s2, l2, sw, sh, fs_t, fs_l) in [
        (1473, 562.5, 1525.2, 1545, 1620.6, 1640, 21.7, 23.6, "16px", "14.5px"),
        (1483, 1110, 1535.2, 1555, 1631, 1651, 22.5, 25, "16px", "14.5px"),
        (1009, 1658.3, 1059, 1077, 1151, 1170, 22, 23.4, "15.5px", "14.5px"),
        (1593.6, 1658.3, 1644, 1662, 1735.8, 1754, 22, 23.4, "15.5px", "14.5px")]:
    txt(ov, [rx], [yc], ["Risk"], fs_t)
    ov.rect(x=[s1, s2], y=[yc, yc], width=sw, height=sh, fill_color=[BLUE_V, RED_V], line_color="black",
            line_width=1.5)
    txt(ov, [l1, l2], [yc, yc], groups, fs_l)

# ---------------- Grid assembly ----------------
colw = [sc(COLB[i + 1]) - sc(COLB[i]) for i in range(len(COLB) - 1)]
rowh = [sc(ROWB[i + 1]) - sc(ROWB[i]) for i in range(len(ROWB) - 1)]

grid = GridBox(children=[(panelA, 0, 0, 2, 2), (hB, 2, 0, 2, 2), (panelC, 4, 0, 2, 1),
                         (pD, 0, 2, 1, 2), (pE, 1, 2, 2, 2), (pF, 3, 2, 2, 2),
                         (pG, 5, 1, 1, 2), (pH, 5, 3, 1, 1), (ov, 0, 0, 6, 4)],
               rows=[f"{h}px" for h in rowh], cols=[f"{w}px" for w in colw], spacing=0)

open("out.html", "w").write(file_html(grid, INLINE))
